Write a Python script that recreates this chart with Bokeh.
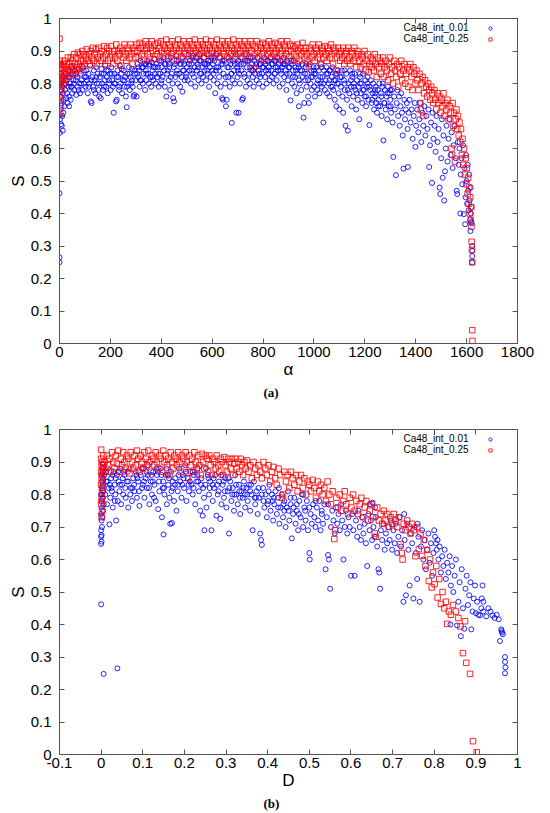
from bokeh.plotting import figure
from bokeh.models import (FixedTicker, CustomJSTickFormatter, LinearAxis, Legend,
                          LegendItem, Title, Range1d, ColumnDataSource, Label)
from bokeh.layouts import column
from bokeh.embed import file_html
from bokeh.resources import INLINE

series_names = ["Ca48_int_0.01", "Ca48_int_0.25"]
captions = ["(a)", "(b)"]
y_ticks = [0, 0.1, 0.2, 0.3, 0.4, 0.5, 0.6, 0.7, 0.8, 0.9, 1]
alpha_ticks = [0, 200, 400, 600, 800, 1000, 1200, 1400, 1600, 1800]
d_ticks = [-0.1, 0, 0.1, 0.2, 0.3, 0.4, 0.5, 0.6, 0.7, 0.8, 0.9, 1]

# panel (a): S versus alpha, series Ca48_int_0.01  (alpha, S)
top_blue = [
(0,0.25),(0,0.265),(0,0.462),(1,0.648),(1,0.86),(2,0.69),(2,0.80),(3,0.72),(3,0.83),(4,0.76),(5,0.845),(6,0.675),(6,0.78),(7,0.81),(8,0.74),(9,0.67),(10,0.79),(11,0.70),(12,0.77),(13,0.655),(14,0.82),(15,0.71),(16,0.75),(18,0.80),(20,0.73),
(22,0.78),(24,0.83),(26,0.755),(28,0.81),(30,0.77),(32,0.74),(34,0.84),(36,0.79),(38,0.76),(38,0.73),(40,0.82),(42,0.80),(44,0.75),(46,0.85),(48,0.79),(50,0.77),(53,0.83),(56,0.80),(58,0.78),(61,0.84),(64,0.81),(66,0.765),(69,0.82),(72,0.79),(75,0.845),(78,0.80),(81,0.77),(84,0.83),(87,0.81),(90,0.78),(93,0.85),(96,0.80),(99,0.82),
(102,0.79),(105,0.84),(108,0.81),(111,0.77),(114,0.83),(117,0.80),(120,0.855),(123,0.745),(126,0.74),(129,0.82),(132,0.79),(135,0.84),(138,0.81),(141,0.77),(144,0.85),(147,0.80),(150,0.83),(153,0.78),(156,0.76),(159,0.82),(162,0.755),(165,0.845),(168,0.80),(171,0.78),(174,0.83),(177,0.81),(180,0.855),(183,0.79),(186,0.82),(189,0.77),(192,0.84),(195,0.80),(198,0.83),
(201,0.78),(204,0.85),(207,0.81),(210,0.79),(213,0.71),(216,0.83),(219,0.80),(222,0.745),(225,0.75),(228,0.84),(231,0.82),(234,0.78),(237,0.855),(240,0.80),(243,0.83),(246,0.77),(249,0.81),(252,0.84),(255,0.79),(258,0.82),(261,0.76),(264,0.727),(267,0.83),(270,0.80),(273,0.85),(276,0.78),(279,0.82),(282,0.80),(285,0.845),(288,0.79),(291,0.76),(294,0.765),(297,0.83),(300,0.81),
(303,0.76),(306,0.86),(309,0.82),(312,0.84),(315,0.79),(318,0.87),(321,0.81),(324,0.85),(327,0.80),(330,0.83),(333,0.86),(336,0.78),(339,0.84),(342,0.81),(345,0.87),(348,0.83),(351,0.80),(354,0.855),(357,0.82),(360,0.79),(363,0.865),(366,0.84),(369,0.81),(372,0.875),(375,0.83),(378,0.80),(381,0.86),(384,0.82),(387,0.85),(390,0.79),(393,0.87),(396,0.83),(399,0.80),
(402,0.85),(405,0.82),(408,0.88),(411,0.84),(414,0.79),(417,0.86),(420,0.76),(423,0.83),(426,0.87),(429,0.81),(432,0.85),(435,0.78),(438,0.88),(441,0.83),(444,0.80),(447,0.755),(450,0.745),(453,0.86),(456,0.82),(459,0.885),(462,0.84),(465,0.80),(468,0.87),(471,0.83),(474,0.79),(477,0.86),(480,0.82),(483,0.775),(486,0.88),(489,0.84),(492,0.81),(495,0.87),(498,0.83),
(501,0.85),(504,0.81),(507,0.89),(510,0.84),(513,0.87),(516,0.80),(519,0.86),(522,0.83),(525,0.885),(528,0.82),(531,0.85),(534,0.79),(537,0.88),(540,0.84),(543,0.86),(546,0.81),(549,0.89),(552,0.83),(555,0.87),(558,0.80),(561,0.85),(564,0.82),(567,0.88),(570,0.84),(573,0.86),(576,0.81),(579,0.89),(582,0.83),(585,0.87),(588,0.79),(591,0.85),(594,0.82),(597,0.88),(600,0.84),
(603,0.86),(606,0.81),(609,0.87),(612,0.77),(615,0.84),(618,0.89),(621,0.80),(624,0.85),(627,0.82),(630,0.88),(633,0.79),(636,0.86),(639,0.755),(642,0.75),(645,0.83),(648,0.87),(651,0.80),(654,0.73),(657,0.75),(660,0.85),(663,0.82),(666,0.88),(669,0.79),(672,0.86),(675,0.83),(677,0.679),(680,0.81),(683,0.87),(686,0.84),(689,0.80),(692,0.89),(695,0.71),(698,0.85),(700,0.82),(704,0.71),
(703,0.87),(706,0.83),(709,0.80),(712,0.88),(715,0.84),(718,0.75),(721,0.755),(724,0.86),(727,0.82),(730,0.89),(733,0.79),(736,0.85),(739,0.81),(742,0.87),(745,0.83),(748,0.80),(751,0.88),(754,0.84),(757,0.86),(760,0.82),(763,0.79),(766,0.87),(769,0.83),(772,0.85),(775,0.81),(778,0.88),(781,0.84),(784,0.80),(787,0.86),(790,0.82),(793,0.87),(796,0.83),(799,0.79),(802,0.85),(805,0.88),(808,0.82),(811,0.84),(814,0.80),(817,0.87),(820,0.83),(823,0.85),(826,0.81),(829,0.88),(832,0.84),(835,0.82),(838,0.86),(841,0.80),(844,0.87),(847,0.83),(850,0.85),
(853,0.81),(856,0.88),(859,0.84),(862,0.86),(865,0.79),(868,0.87),(871,0.83),(874,0.85),(877,0.80),(880,0.88),(883,0.82),(886,0.86),(889,0.84),(892,0.78),(895,0.87),(898,0.81),(901,0.85),(904,0.83),(908,0.748),(911,0.86),(914,0.80),(917,0.84),(920,0.87),(923,0.79),(926,0.82),(929,0.85),(932,0.77),(935,0.83),(938,0.86),(941,0.73),(944,0.80),(947,0.84),(950,0.78),(953,0.86),(956,0.82),(959,0.695),(962,0.74),(965,0.81),(968,0.85),(971,0.79),(974,0.83),(977,0.76),(980,0.74),(983,0.86),(986,0.80),(989,0.84),(992,0.78),(995,0.82),(998,0.85),
(1001,0.79),(1004,0.76),(1007,0.83),(1010,0.85),(1013,0.78),(1016,0.81),(1019,0.84),(1022,0.77),(1025,0.80),(1028,0.86),(1031,0.79),(1034,0.82),(1037,0.68),(1040,0.84),(1043,0.78),(1046,0.81),(1049,0.85),(1052,0.77),(1055,0.83),(1058,0.80),(1061,0.76),(1064,0.84),(1067,0.79),(1070,0.82),(1073,0.85),(1076,0.78),(1079,0.81),(1082,0.75),(1085,0.83),(1088,0.73),(1091,0.80),(1094,0.84),(1097,0.77),(1100,0.72),
(1103,0.82),(1106,0.79),(1109,0.84),(1112,0.76),(1115,0.71),(1118,0.81),(1121,0.78),(1124,0.67),(1127,0.83),(1130,0.75),(1133,0.655),(1136,0.80),(1139,0.77),(1142,0.84),(1145,0.79),(1148,0.73),(1151,0.82),(1154,0.76),(1157,0.80),(1160,0.83),(1163,0.78),(1166,0.72),(1169,0.81),(1172,0.75),(1175,0.79),(1178,0.69),(1181,0.82),(1184,0.77),(1187,0.80),(1190,0.74),(1193,0.83),(1196,0.78),(1199,0.76),(1202,0.81),(1205,0.73),(1208,0.79),(1211,0.82),(1214,0.75),(1218,0.672),(1221,0.78),(1224,0.81),(1227,0.74),(1230,0.77),
(1233,0.80),(1236,0.72),(1239,0.76),(1242,0.79),(1245,0.74),(1248,0.71),(1251,0.78),(1254,0.75),(1257,0.80),(1260,0.73),(1263,0.77),(1266,0.70),(1269,0.79),(1273,0.625),(1276,0.74),(1279,0.78),(1282,0.72),(1285,0.76),(1288,0.69),(1291,0.79),(1294,0.73),(1297,0.77),(1300,0.75),(1303,0.71),(1306,0.78),(1309,0.68),(1312,0.574),(1315,0.76),(1318,0.72),(1322,0.518),(1325,0.74),(1328,0.78),(1331,0.70),(1334,0.76),(1337,0.67),(1340,0.73),(1343,0.77),(1346,0.71),(1349,0.64),(1352,0.538),(1355,0.75),(1358,0.69),(1361,0.72),
(1365,0.74),(1369,0.543),(1368,0.66),(1372,0.71),(1376,0.75),(1380,0.68),(1384,0.72),(1388,0.63),(1392,0.70),(1396,0.74),(1399,0.605),(1402,0.67),(1406,0.72),(1410,0.65),(1414,0.69),(1418,0.74),(1422,0.62),(1426,0.71),(1430,0.67),(1434,0.73),(1438,0.64),(1442,0.70),(1446,0.66),(1450,0.72),(1453,0.543),(1456,0.61),(1460,0.68),(1464,0.494),(1466,0.71),(1470,0.63),
(1474,0.67),(1478,0.59),(1482,0.70),(1486,0.62),(1490,0.66),(1494,0.48),(1496,0.46),(1500,0.57),(1503,0.69),(1506,0.51),(1509,0.64),(1512,0.44),(1515,0.53),(1518,0.60),(1521,0.67),(1525,0.56),(1529,0.63),(1533,0.69),(1537,0.58),(1541,0.65),(1545,0.54),(1549,0.61),(1553,0.67),(1557,0.57),(1561,0.47),(1563,0.46),(1566,0.62),(1569,0.55),
(1572,0.60),(1575,0.40),(1577,0.52),(1580,0.57),(1583,0.49),(1586,0.61),(1589,0.398),(1591,0.54),(1594,0.367),(1596,0.45),(1598,0.58),(1600,0.50),(1602,0.43),(1604,0.55),(1606,0.47),(1608,0.41),(1610,0.52),(1612,0.44),(1614,0.38),(1615,0.346),(1616,0.48),(1617,0.40),(1618,0.374),(1619,0.42),(1620,0.37),(1622,0.30),(1622,0.285),(1622,0.269),(1622,0.249),
(310,0.85),(340,0.86),(370,0.85),(400,0.87),(430,0.86),(460,0.87),(490,0.86),(520,0.88),(550,0.87),(580,0.86),(610,0.88),(640,0.87),(670,0.87),(700,0.86),(730,0.87),(760,0.88),(790,0.86),(820,0.87),(850,0.87),(880,0.86),(910,0.87),(940,0.85),(970,0.86),(1000,0.84),(1030,0.85),(1060,0.84),(1090,0.83),(1120,0.84),(1150,0.83),(1180,0.83),(1210,0.80),(1240,0.78),(1270,0.80),(1300,0.78),
(25,0.80),(35,0.82),(45,0.79),(55,0.81),(65,0.83),(75,0.78),(85,0.80),(95,0.84),(105,0.82),(115,0.79),(125,0.81),(135,0.78),(145,0.82),(155,0.80),(165,0.83),(175,0.79),(185,0.84),(195,0.81),(205,0.83),(215,0.80),(225,0.82),(235,0.79),(245,0.845),(255,0.81),(265,0.79),(275,0.83),(285,0.81),(295,0.84),
(305,0.83),(317,0.81),(329,0.85),(341,0.83),(353,0.86),(365,0.82),(377,0.85),(389,0.83),(401,0.81),(413,0.86),(425,0.84),(437,0.82),(449,0.85),(461,0.83),(473,0.86),(485,0.84),(497,0.82),(509,0.86),(521,0.84),(533,0.87),(545,0.85),(557,0.83),(569,0.86),(581,0.84),(593,0.87),(605,0.83),(617,0.85),(629,0.84),(641,0.86),(653,0.82),(665,0.85),(677,0.83),(689,0.86),(701,0.84),(713,0.86),(725,0.83),(737,0.87),(749,0.85),(761,0.84),(773,0.86),(785,0.83),(797,0.85),(809,0.86),(821,0.84),(833,0.86),(845,0.83),(857,0.85),(869,0.84),(881,0.86),(893,0.83),
(905,0.85),(917,0.82),(929,0.84),(941,0.81),(953,0.84),(965,0.83),(977,0.81),(989,0.82),(1001,0.83),(1013,0.80),(1025,0.82),(1037,0.80),(1049,0.83),(1061,0.81),(1073,0.79),(1085,0.81),(1097,0.80),(1109,0.82),(1121,0.80),(1133,0.78),(1145,0.81),(1157,0.79),(1169,0.77),(1181,0.80),(1193,0.78),(1205,0.76),(1217,0.79),(1229,0.75),(1241,0.77),(1253,0.73),(1265,0.76),(1277,0.74),(1289,0.77),(1301,0.73),
]

# panel (a): S versus alpha, series Ca48_int_0.25  (alpha, S)
top_red = [
(0,0.938),(1,0.87),(1,0.80),(2,0.83),(2,0.76),(3,0.71),(3,0.79),(4,0.86),(5,0.82),(5,0.75),(6,0.73),(7,0.84),(8,0.78),(9,0.81),(10,0.85),
(12,0.82),(14,0.86),(16,0.80),(18,0.84),(20,0.87),(22,0.81),(24,0.85),(26,0.83),(28,0.86),(30,0.82),(33,0.88),(36,0.84),(39,0.86),(42,0.83),(45,0.88),(48,0.85),(51,0.87),(54,0.84),(57,0.89),(60,0.86),(63,0.83),(66,0.88),(69,0.85),(72,0.895),(75,0.86),(78,0.84),(81,0.89),(84,0.87),(87,0.85),(90,0.90),(93,0.87),(96,0.89),(99,0.86),
(103,0.88),(107,0.905),(111,0.87),(115,0.89),(119,0.86),(123,0.90),(127,0.88),(131,0.91),(135,0.87),(139,0.89),(143,0.905),(147,0.86),(151,0.88),(155,0.91),(159,0.89),(163,0.87),(167,0.90),(171,0.88),(175,0.915),(179,0.86),(183,0.89),(187,0.91),(191,0.87),(195,0.90),(199,0.88),(203,0.915),(207,0.89),(211,0.86),(215,0.90),(219,0.88),(223,0.92),(227,0.87),(231,0.90),(235,0.89),(239,0.91),(243,0.855),(247,0.90),(251,0.88),(255,0.92),(259,0.89),(263,0.87),(267,0.91),(271,0.90),(275,0.88),(279,0.92),(283,0.89),(287,0.86),(291,0.91),(295,0.90),(299,0.88),
(303,0.92),(307,0.90),(311,0.88),(315,0.925),(319,0.91),(323,0.89),(327,0.92),(331,0.87),(335,0.90),(339,0.93),(343,0.91),(347,0.89),(351,0.92),(355,0.88),(359,0.91),(363,0.93),(367,0.90),(371,0.875),(375,0.92),(379,0.90),(383,0.89),(387,0.925),(391,0.91),(395,0.88),(399,0.93),(403,0.90),(407,0.92),(411,0.89),(415,0.91),(419,0.935),(423,0.90),(427,0.88),(431,0.92),(435,0.91),(439,0.89),(443,0.93),(447,0.90),(451,0.87),(455,0.92),(459,0.91),(463,0.89),(467,0.935),(471,0.90),(475,0.92),(479,0.88),(483,0.91),(487,0.93),(491,0.90),(495,0.89),(499,0.92),(503,0.91),(507,0.875),(511,0.93),(515,0.90),(519,0.92),(523,0.89),(527,0.91),(531,0.935),(535,0.90),(539,0.88),(543,0.92),(547,0.91),
(551,0.89),(555,0.93),(559,0.90),(563,0.92),(567,0.88),(571,0.91),(575,0.935),(579,0.90),(583,0.92),(587,0.89),(591,0.91),(595,0.93),(599,0.90),(603,0.88),(607,0.92),(611,0.91),(615,0.89),(619,0.935),(623,0.90),(627,0.92),(631,0.88),(635,0.91),(639,0.93),(643,0.90),(647,0.89),(651,0.92),(655,0.91),(659,0.88),(663,0.93),(667,0.90),(671,0.92),(675,0.89),(679,0.91),(683,0.935),(687,0.90),(691,0.88),(695,0.92),(699,0.91),(703,0.89),(707,0.93),(711,0.90),(715,0.92),(719,0.88),(723,0.91),(727,0.93),(731,0.90),(735,0.89),(739,0.92),(743,0.91),(747,0.88),(751,0.93),(755,0.90),(759,0.92),(763,0.847),(767,0.89),(771,0.91),(775,0.93),(779,0.90),(783,0.88),(787,0.92),(791,0.91),(795,0.89),(799,0.925),(803,0.90),(807,0.87),(811,0.92),(815,0.91),(819,0.89),(823,0.93),(827,0.90),(831,0.88),(835,0.92),(839,0.91),(843,0.89),(847,0.925),
(851,0.90),(855,0.88),(859,0.92),(863,0.91),(867,0.89),(871,0.93),(875,0.90),(879,0.87),(883,0.92),(887,0.91),(891,0.89),(895,0.93),(899,0.90),(903,0.88),(907,0.92),(911,0.90),(915,0.87),(919,0.915),(923,0.89),(927,0.91),(931,0.88),(935,0.92),(939,0.90),(943,0.87),(947,0.91),(951,0.89),(955,0.925),(959,0.90),(963,0.88),(967,0.91),(971,0.89),(975,0.87),(980,0.85),(983,0.91),(987,0.90),(991,0.88),(995,0.92),(999,0.89),(1003,0.87),(1007,0.91),(1011,0.90),(1015,0.88),(1019,0.92),(1023,0.89),(1027,0.86),(1031,0.91),(1035,0.90),(1039,0.88),(1043,0.915),(1047,0.89),(1051,0.87),(1055,0.91),(1059,0.90),(1063,0.88),(1067,0.92),(1071,0.89),(1075,0.86),(1079,0.91),(1083,0.90),(1087,0.84),(1091,0.88),(1095,0.91),(1099,0.89),(1103,0.87),(1107,0.90),(1111,0.88),(1115,0.91),(1119,0.86),(1123,0.89),(1127,0.90),(1131,0.87),(1135,0.91),(1139,0.88),(1143,0.86),(1147,0.90),(1151,0.89),(1155,0.87),(1159,0.91),(1163,0.88),(1167,0.85),(1171,0.90),(1175,0.89),
(1179,0.87),(1183,0.85),(1187,0.89),(1191,0.88),(1195,0.86),(1199,0.90),(1203,0.84),(1207,0.87),(1211,0.89),(1215,0.835),(1219,0.86),(1223,0.88),(1227,0.85),(1231,0.87),(1235,0.84),(1239,0.89),(1243,0.86),(1247,0.82),(1251,0.88),(1255,0.85),(1259,0.87),(1263,0.83),(1267,0.86),(1271,0.88),(1275,0.82),(1279,0.85),(1283,0.87),(1287,0.84),(1291,0.81),(1295,0.86),(1299,0.88),
(1303,0.83),(1307,0.85),(1311,0.80),(1315,0.87),(1319,0.84),(1323,0.82),(1327,0.86),(1331,0.79),(1335,0.85),(1339,0.83),(1343,0.87),(1347,0.81),(1351,0.84),(1355,0.86),(1359,0.80),(1363,0.83),(1367,0.85),(1371,0.79),(1375,0.84),(1379,0.86),(1383,0.82),(1387,0.78),(1391,0.85),(1395,0.83),(1399,0.80),
(1403,0.84),(1407,0.81),(1411,0.78),(1415,0.83),(1418,0.74),(1420,0.72),(1423,0.80),(1427,0.82),(1430,0.70),(1433,0.77),(1437,0.81),(1441,0.79),(1445,0.76),(1449,0.80),(1453,0.78),(1457,0.75),(1461,0.79),(1465,0.77),(1469,0.74),
(1473,0.78),(1477,0.75),(1481,0.72),(1485,0.77),(1489,0.74),(1493,0.76),(1497,0.71),(1501,0.75),(1505,0.73),(1509,0.77),(1513,0.70),(1517,0.74),(1521,0.72),(1525,0.75),(1529,0.69),(1533,0.73),(1537,0.71),(1541,0.60),(1543,0.58),(1545,0.74),(1548,0.67),(1551,0.71),(1554,0.56),(1557,0.69),(1560,0.72),(1563,0.66),(1566,0.70),(1569,0.64),
(1572,0.68),(1575,0.62),(1578,0.66),(1581,0.58),(1584,0.63),(1587,0.55),(1590,0.60),(1593,0.52),(1596,0.57),(1599,0.49),(1601,0.54),(1604,0.46),(1606,0.51),(1608,0.43),(1610,0.48),(1612,0.40),(1614,0.45),(1616,0.38),(1618,0.42),(1619,0.36),(1620,0.313),(1621,0.288),(1622,0.25),(1622,0.041),(1623,0.008),
]

# panel (b): S versus D, series Ca48_int_0.01  (D, S)
bot_blue = [
(0.0,0.462),(0.0,0.648),(0.001,0.655),(0.0,0.67),(0.001,0.675),(0.0,0.69),(0.002,0.70),(0.001,0.72),(0.0,0.74),(0.002,0.76),(0.001,0.78),(0.0,0.80),(0.003,0.82),(0.002,0.84),(0.001,0.86),(0.003,0.88),(0.004,0.87),(0.004,0.85),(0.005,0.83),(0.005,0.81),(0.004,0.79),(0.006,0.77),(0.005,0.75),(0.006,0.248),(0.039,0.265),(0.003,0.73),(0.002,0.80),(0.004,0.895),
(0.008,0.86),(0.01,0.80),(0.012,0.84),(0.014,0.77),(0.016,0.88),(0.018,0.82),(0.02,0.708),(0.022,0.79),(0.024,0.85),(0.026,0.81),(0.028,0.76),(0.03,0.87),(0.032,0.83),(0.034,0.80),(0.036,0.72),(0.038,0.86),(0.04,0.78),(0.042,0.84),(0.044,0.81),(0.046,0.88),(0.048,0.77),(0.05,0.83),(0.053,0.80),(0.056,0.86),(0.059,0.79),(0.062,0.84),(0.065,0.76),(0.068,0.88),(0.071,0.82),(0.074,0.78),(0.077,0.85),(0.08,0.81),(0.083,0.87),(0.086,0.79),(0.089,0.84),(0.092,0.765),(0.095,0.86),(0.098,0.82),
(0.101,0.88),(0.104,0.79),(0.107,0.85),(0.11,0.82),(0.113,0.89),(0.116,0.77),(0.119,0.84),(0.122,0.80),(0.125,0.87),(0.128,0.83),(0.131,0.78),(0.134,0.86),(0.137,0.755),(0.14,0.81),(0.143,0.88),(0.146,0.73),(0.149,0.84),(0.15,0.677),(0.152,0.80),(0.155,0.86),(0.158,0.77),(0.161,0.83),(0.164,0.79),(0.166,0.71),(0.168,0.87),(0.17,0.712),(0.172,0.82),(0.175,0.78),(0.178,0.85),
(0.181,0.75),(0.184,0.81),(0.187,0.88),(0.19,0.84),(0.193,0.79),(0.196,0.86),(0.199,0.82),(0.202,0.89),(0.205,0.78),(0.208,0.85),(0.211,0.81),(0.214,0.87),(0.217,0.83),(0.22,0.80),(0.223,0.86),(0.226,0.77),(0.229,0.84),(0.232,0.88),(0.235,0.81),(0.238,0.75),(0.241,0.85),(0.244,0.735),(0.247,0.79),(0.248,0.69),(0.25,0.83),(0.253,0.76),(0.256,0.86),(0.259,0.80),
(0.262,0.84),(0.265,0.69),(0.268,0.78),(0.271,0.82),(0.274,0.86),(0.277,0.735),(0.28,0.80),(0.283,0.84),(0.286,0.725),(0.289,0.77),(0.292,0.83),(0.295,0.79),(0.298,0.85),(0.301,0.76),(0.304,0.81),(0.307,0.68),(0.31,0.84),(0.313,0.78),(0.316,0.82),(0.319,0.75),(0.322,0.86),(0.325,0.80),(0.328,0.77),(0.331,0.83),(0.334,0.74),(0.337,0.81),(0.34,0.79),(0.343,0.84),(0.346,0.76),(0.349,0.82),
(0.352,0.78),(0.355,0.83),(0.358,0.75),(0.361,0.80),(0.364,0.69),(0.367,0.84),(0.37,0.77),(0.373,0.81),(0.376,0.74),(0.379,0.79),(0.382,0.68),(0.384,0.66),(0.386,0.645),(0.389,0.82),(0.392,0.76),(0.395,0.80),(0.398,0.73),(0.401,0.78),(0.404,0.83),(0.407,0.75),(0.41,0.80),(0.413,0.72),(0.416,0.77),(0.419,0.81),(0.422,0.74),(0.425,0.79),(0.428,0.71),(0.431,0.76),
(0.434,0.80),(0.437,0.73),(0.44,0.78),(0.443,0.70),(0.446,0.76),(0.449,0.81),(0.452,0.72),(0.455,0.77),(0.458,0.665),(0.461,0.74),(0.464,0.79),(0.467,0.71),(0.47,0.75),(0.473,0.69),(0.476,0.78),(0.479,0.73),(0.482,0.80),(0.485,0.70),(0.488,0.76),(0.491,0.72),(0.494,0.78),(0.497,0.69),(0.5,0.62),(0.501,0.60),(0.503,0.74),(0.506,0.71),(0.509,0.77),
(0.512,0.73),(0.515,0.70),(0.518,0.76),(0.521,0.72),(0.524,0.78),(0.527,0.69),(0.53,0.74),(0.533,0.71),(0.536,0.77),(0.539,0.57),(0.542,0.73),(0.545,0.614),(0.547,0.60),(0.55,0.51),(0.552,0.70),(0.555,0.75),(0.558,0.72),(0.561,0.68),(0.564,0.76),(0.567,0.71),(0.57,0.74),(0.573,0.69),(0.576,0.77),(0.579,0.72),(0.582,0.60),(0.585,0.70),(0.588,0.75),(0.591,0.68),(0.594,0.73),(0.597,0.70),(0.6,0.55),
(0.603,0.74),(0.606,0.69),(0.609,0.55),(0.612,0.72),(0.615,0.67),(0.618,0.75),(0.621,0.70),(0.624,0.66),(0.627,0.73),(0.63,0.68),(0.633,0.71),(0.636,0.65),(0.639,0.58),(0.642,0.74),(0.645,0.77),(0.645,0.69),(0.648,0.72),(0.651,0.66),(0.652,0.775),(0.654,0.70),(0.657,0.67),(0.658,0.76),(0.66,0.73),(0.663,0.64),(0.666,0.57),(0.668,0.56),(0.67,0.51),(0.672,0.69),(0.675,0.66),(0.678,0.71),(0.681,0.63),(0.684,0.68),(0.687,0.65),(0.69,0.70),
(0.693,0.66),(0.696,0.72),(0.699,0.63),(0.702,0.69),(0.705,0.65),(0.708,0.71),(0.711,0.62),(0.714,0.67),(0.717,0.73),(0.72,0.64),(0.723,0.69),(0.726,0.47),(0.728,0.74),(0.729,0.66),(0.732,0.49),(0.735,0.71),(0.738,0.63),(0.741,0.52),(0.744,0.68),(0.747,0.65),(0.75,0.48),(0.753,0.70),(0.756,0.62),(0.759,0.54),(0.76,0.71),(0.762,0.67),(0.765,0.47),
(0.768,0.64),(0.771,0.69),(0.774,0.60),(0.777,0.66),(0.78,0.57),(0.783,0.63),(0.786,0.68),(0.789,0.59),(0.792,0.65),(0.795,0.55),(0.798,0.62),(0.8,0.69),(0.802,0.67),(0.804,0.65),(0.806,0.63),(0.808,0.66),(0.81,0.60),(0.813,0.64),(0.816,0.56),(0.819,0.61),(0.822,0.58),(0.825,0.63),(0.828,0.54),(0.831,0.59),(0.834,0.56),(0.837,0.61),(0.839,0.40),(0.84,0.52),
(0.843,0.58),(0.846,0.50),(0.849,0.55),(0.852,0.60),(0.855,0.397),(0.858,0.47),(0.861,0.53),(0.864,0.364),(0.866,0.57),(0.869,0.45),(0.872,0.387),(0.875,0.51),(0.878,0.55),(0.881,0.46),(0.884,0.49),(0.887,0.53),(0.889,0.385),(0.892,0.44),(0.895,0.48),(0.898,0.52),(0.9,0.435),(0.903,0.47),(0.906,0.43),(0.91,0.428),(0.913,0.45),(0.914,0.48),(0.916,0.52),(0.918,0.47),(0.918,0.44),(0.925,0.425),(0.93,0.45),(0.935,0.44),(0.94,0.428),(0.945,0.42),(0.95,0.43),(0.955,0.416),(0.958,0.349),(0.961,0.385),(0.962,0.38),(0.963,0.375),(0.965,0.37),(0.97,0.30),(0.97,0.285),(0.971,0.268),(0.97,0.25),
(0.012,0.87),(0.021,0.83),(0.027,0.86),(0.033,0.78),(0.041,0.87),(0.052,0.85),(0.058,0.82),(0.064,0.87),(0.07,0.80),(0.079,0.83),(0.085,0.86),(0.091,0.81),(0.097,0.88),(0.103,0.84),(0.109,0.87),(0.115,0.82),(0.121,0.86),(0.127,0.79),(0.133,0.88),(0.139,0.84),(0.145,0.86),(0.151,0.82),(0.157,0.88),(0.163,0.85),(0.169,0.81),(0.177,0.83),(0.186,0.86),(0.195,0.83),(0.204,0.87),(0.213,0.84),(0.222,0.82),(0.231,0.86),(0.24,0.83),(0.252,0.88),(0.261,0.82),(0.27,0.85),(0.279,0.83),(0.288,0.86),(0.297,0.81),(0.306,0.85),(0.315,0.80),(0.324,0.83),(0.333,0.79),(0.342,0.82),(0.351,0.80),(0.36,0.83),(0.369,0.79),(0.378,0.82),(0.39,0.78),(0.402,0.81),(0.415,0.79),(0.427,0.82),(0.44,0.75),(0.455,0.79),(0.47,0.77),(0.485,0.80),(0.5,0.76),(0.515,0.78),(0.53,0.75),(0.545,0.77),
(0.015,0.84),(0.025,0.82),(0.035,0.85),(0.045,0.83),(0.055,0.87),(0.065,0.84),(0.075,0.82),(0.087,0.85),(0.1,0.83),(0.112,0.86),(0.124,0.84),(0.136,0.87),(0.148,0.82),(0.16,0.86),(0.172,0.84),(0.185,0.83),(0.198,0.85),(0.21,0.83),(0.22,0.87),(0.233,0.84),(0.245,0.82),(0.258,0.85),(0.268,0.83),(0.282,0.81),(0.294,0.84),(0.308,0.82),(0.32,0.80),(0.332,0.81),(0.345,0.80),(0.358,0.81),(0.372,0.79),(0.386,0.80),(0.4,0.77),(0.412,0.78),(0.425,0.76),(0.438,0.77),(0.45,0.75),(0.462,0.76),(0.475,0.74),(0.49,0.75),
]

# panel (b): S versus D, series Ca48_int_0.25  (D, S)
bot_red = [
(0.0,0.938),(0.0,0.91),(0.001,0.89),(0.0,0.87),(0.001,0.85),(0.0,0.83),(0.002,0.81),(0.001,0.79),(0.0,0.77),(0.002,0.75),(0.001,0.73),(0.003,0.90),(0.003,0.86),(0.004,0.88),(0.004,0.84),(0.005,0.92),(0.005,0.87),(0.006,0.89),(0.002,0.78),(0.003,0.82),
(0.008,0.90),(0.011,0.87),(0.014,0.92),(0.017,0.89),(0.02,0.91),(0.023,0.87),(0.026,0.93),(0.029,0.90),(0.032,0.88),(0.035,0.92),(0.038,0.895),(0.041,0.935),(0.044,0.87),(0.047,0.91),(0.05,0.89),(0.053,0.93),(0.056,0.90),(0.059,0.88),(0.062,0.92),(0.065,0.91),(0.068,0.865),(0.071,0.93),(0.074,0.90),(0.077,0.88),(0.08,0.92),(0.083,0.89),(0.086,0.935),(0.089,0.91),(0.092,0.87),(0.095,0.92),(0.098,0.90),(0.101,0.88),(0.104,0.93),(0.107,0.91),(0.11,0.89),(0.113,0.935),(0.116,0.90),(0.119,0.87),(0.122,0.92),(0.125,0.91),(0.128,0.89),(0.131,0.93),(0.134,0.90),(0.137,0.88),(0.14,0.92),(0.143,0.91),(0.146,0.87),(0.149,0.935),(0.152,0.90),(0.155,0.92),(0.158,0.89),(0.161,0.91),(0.164,0.86),(0.167,0.93),(0.17,0.90),(0.173,0.88),(0.176,0.92),(0.179,0.91),
(0.182,0.89),(0.185,0.93),(0.188,0.90),(0.191,0.87),(0.194,0.92),(0.197,0.91),(0.2,0.88),(0.203,0.93),(0.206,0.90),(0.209,0.85),(0.212,0.92),(0.215,0.89),(0.218,0.91),(0.221,0.87),(0.224,0.93),(0.227,0.90),(0.23,0.88),(0.233,0.92),(0.236,0.89),(0.239,0.86),(0.242,0.925),(0.245,0.90),(0.248,0.88),(0.251,0.92),(0.254,0.91),(0.257,0.87),(0.26,0.92),(0.263,0.89),(0.266,0.86),(0.269,0.91),(0.272,0.90),(0.275,0.88),(0.278,0.92),(0.281,0.89),(0.284,0.87),(0.287,0.91),(0.29,0.90),(0.293,0.86),(0.296,0.915),(0.299,0.89),(0.302,0.87),(0.305,0.91),(0.308,0.90),(0.311,0.88),(0.314,0.91),(0.317,0.86),(0.32,0.895),(0.323,0.91),(0.326,0.88),(0.329,0.90),(0.332,0.87),(0.335,0.91),(0.338,0.89),(0.341,0.86),(0.344,0.90),(0.347,0.88),(0.35,0.905),
(0.354,0.87),(0.358,0.89),(0.362,0.85),(0.366,0.90),(0.37,0.88),(0.374,0.86),(0.378,0.89),(0.382,0.87),(0.386,0.85),(0.39,0.90),(0.394,0.88),(0.398,0.86),(0.402,0.89),(0.406,0.84),(0.41,0.87),(0.414,0.885),(0.418,0.85),(0.422,0.83),(0.426,0.88),(0.43,0.86),(0.434,0.79),(0.437,0.80),(0.44,0.87),(0.444,0.84),(0.448,0.86),
(0.452,0.82),(0.456,0.87),(0.46,0.85),(0.464,0.83),(0.468,0.86),(0.472,0.81),(0.476,0.84),(0.48,0.86),(0.484,0.82),(0.488,0.85),(0.492,0.80),(0.496,0.84),(0.5,0.83),(0.504,0.81),(0.508,0.845),(0.512,0.82),(0.516,0.79),(0.52,0.84),(0.524,0.81),(0.528,0.83),(0.532,0.80),(0.536,0.82),(0.54,0.78),(0.544,0.84),(0.548,0.80),
(0.552,0.77),(0.556,0.81),(0.56,0.663),(0.562,0.69),(0.565,0.79),(0.569,0.76),(0.573,0.80),(0.577,0.75),(0.581,0.78),(0.585,0.81),(0.589,0.77),(0.593,0.74),(0.597,0.79),(0.601,0.76),(0.605,0.80),(0.609,0.75),(0.613,0.78),(0.617,0.74),(0.621,0.77),(0.625,0.79),(0.629,0.73),(0.633,0.76),(0.637,0.78),(0.641,0.72),(0.645,0.75),(0.649,0.77),(0.653,0.73),(0.657,0.68),(0.66,0.67),(0.663,0.76),(0.667,0.72),(0.671,0.74),(0.675,0.71),(0.679,0.75),(0.683,0.72),(0.687,0.74),
(0.691,0.70),(0.695,0.73),(0.699,0.71),(0.703,0.74),(0.707,0.72),(0.711,0.70),(0.715,0.73),(0.719,0.647),(0.722,0.62),(0.724,0.60),(0.727,0.71),(0.731,0.69),(0.735,0.72),(0.739,0.70),(0.743,0.68),(0.747,0.71),(0.751,0.69),(0.755,0.61),(0.759,0.70),
(0.763,0.632),(0.767,0.68),(0.771,0.611),(0.775,0.66),(0.779,0.58),(0.783,0.63),(0.787,0.534),(0.79,0.60),(0.794,0.514),(0.797,0.56),(0.801,0.524),(0.805,0.58),(0.808,0.483),(0.812,0.54),(0.816,0.463),(0.82,0.50),(0.824,0.45),(0.828,0.47),(0.831,0.402),(0.835,0.44),(0.84,0.43),(0.845,0.46),(0.852,0.44),(0.858,0.42),(0.863,0.394),(0.869,0.312),(0.874,0.41),(0.877,0.282),(0.886,0.248),(0.893,0.041),(0.902,0.007),
]

FONT = "Liberation Sans"
AXIS_COLOR = "#555555"
BLUE = "#0000ff"
RED = "#ff0000"


def make_panel(blue, red, xr, xticks, xlabel, caption, top_b, bottom_b):
    p = figure(frame_width=458, frame_height=325,
               x_range=Range1d(xr[0], xr[1]), y_range=Range1d(0, 1),
               output_backend="svg", toolbar_location=None,
               min_border_left=59, min_border_right=20,
               min_border_top=top_b, min_border_bottom=bottom_b,
               background_fill_color="white", border_fill_color="white")
    p.grid.visible = False
    p.outline_line_color = AXIS_COLOR
    fmt = CustomJSTickFormatter(code="return Number(tick.toFixed(2)).toString();")
    for ax, ticks in ((p.xaxis[0], xticks), (p.yaxis[0], y_ticks)):
        ax.ticker = FixedTicker(ticks=ticks)
        ax.formatter = fmt
        ax.major_tick_in = 5
        ax.major_tick_out = 0
        ax.minor_tick_in = 0
        ax.minor_tick_out = 0
        ax.axis_line_color = AXIS_COLOR
        ax.major_tick_line_color = AXIS_COLOR
        ax.major_label_text_font = FONT
        ax.major_label_text_font_size = "15px"
        ax.major_label_text_color = "black"
        ax.axis_label_text_font = FONT
        ax.axis_label_text_font_size = "17px"
        ax.axis_label_text_font_style = "normal"
        ax.axis_label_text_color = "black"
    p.xaxis.major_label_standoff = 3
    p.yaxis.major_label_standoff = 8
    p.xaxis.axis_label = xlabel
    p.xaxis.axis_label_standoff = 0
    p.yaxis.axis_label = "S"
    p.yaxis.axis_label_standoff = 0

    blank = CustomJSTickFormatter(code="return '';")
    for ticks, side in ((y_ticks, "right"), (xticks, "above")):
        ax = LinearAxis(ticker=FixedTicker(ticks=ticks), formatter=blank,
                        major_tick_in=5, major_tick_out=0,
                        minor_tick_in=0, minor_tick_out=0,
                        axis_line_color=AXIS_COLOR, major_tick_line_color=AXIS_COLOR,
                        major_label_text_font_size="0px", major_label_standoff=0)
        p.add_layout(ax, side)

    src_b = ColumnDataSource(dict(x=[a for a, _ in blue], y=[s for _, s in blue]))
    src_r = ColumnDataSource(dict(x=[a for a, _ in red], y=[s for _, s in red]))
    rb = p.scatter("x", "y", source=src_b, marker="circle", size=5,
                   fill_color=None, line_color=BLUE, line_width=1, line_alpha=0.85)
    rr = p.scatter("x", "y", source=src_r, marker="square", size=5.5,
                   fill_color=None, line_color=RED, line_width=1, line_alpha=0.85)

    # legend symbols (gnuplot style: name to the left, symbol to the right)
    legend = Legend(items=[LegendItem(label=" ", renderers=[rb]),
                           LegendItem(label=" ", renderers=[rr])],
                    location=(427, 299), orientation="vertical",
                    glyph_width=8, glyph_height=8, label_standoff=0,
                    label_height=11, spacing=0, padding=0, margin=0,
                    label_text_font_size="4px",
                    background_fill_alpha=0, border_line_alpha=0)
    p.add_layout(legend)
    for name, yy in zip(series_names, (316, 305)):
        p.add_layout(Label(x=409, y=yy, x_units="screen", y_units="screen",
                           text=name, text_align="right", text_baseline="middle",
                           text_font=FONT, text_font_size="10px", text_color="black"))

    t = Title(text=caption, align="left", offset=204, standoff=3,
              text_font="Liberation Serif", text_font_size="13px",
              text_font_style="bold", text_color="black")
    p.add_layout(t, "below")
    return p


p1 = make_panel(top_blue, top_red, (0, 1800), alpha_ticks, "α", captions[0], 18, 67)
p2 = make_panel(bot_blue, bot_red, (-0.1, 1), d_ticks, "D", captions[1], 19, 58)

layout = column(p1, p2, spacing=0)
open("out.html", "w").write(file_html(layout, INLINE))
